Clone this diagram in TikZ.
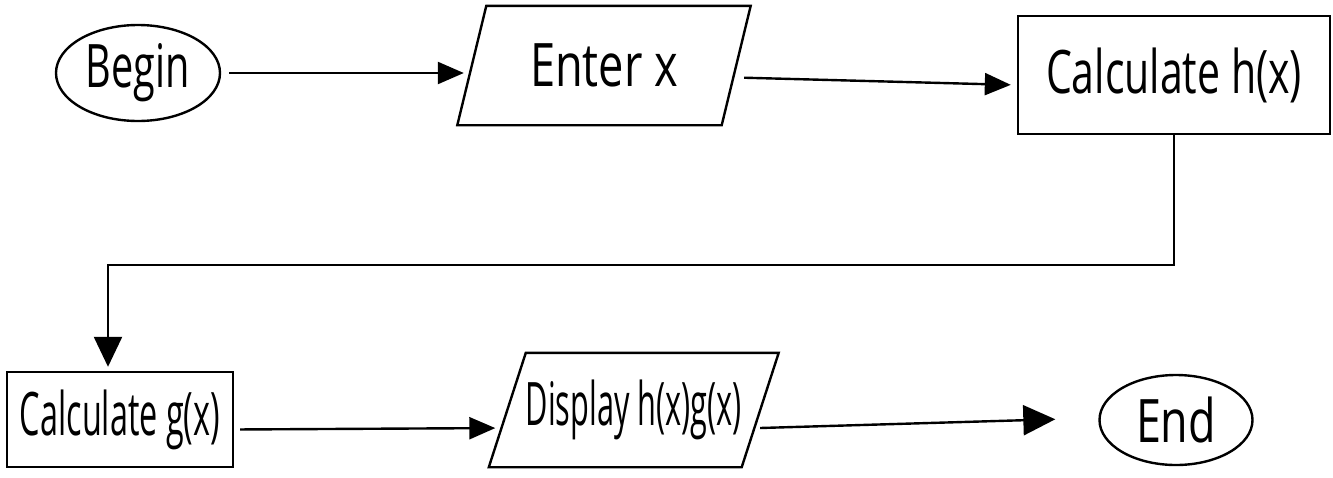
\documentclass[tikz,border=0pt]{standalone}
\usepackage{fontspec}
\setmainfont{Open Sans}
\usetikzlibrary{arrows.meta,shapes.geometric}
\newcommand\hwt[2]{\resizebox{#1pt}{\height}{#2}}
\begin{document}
\begin{tikzpicture}[x=0.5pt,y=-0.5pt, line width=1.2pt,
  box/.style={draw, rectangle, inner sep=0pt, font=\fontsize{30}{34}\selectfont},
  term/.style={draw, ellipse, inner sep=0pt, font=\fontsize{30}{34}\selectfont},
  io/.style={rectangle, inner sep=0pt, font=\fontsize{30}{34}\selectfont},
  arr/.style={-{Triangle[length=13pt,width=11pt]}},
  bigarr/.style={-{Triangle[length=16pt,width=15pt]}},
  downarr/.style={-{Triangle[length=15pt,width=14pt]}},
]
\fill[white] (0,0) rectangle (1333,477);
\useasboundingbox (0,0) rectangle (1333,477);

% nodes
\node[term, minimum width=82pt, minimum height=48pt] (begin) at (138,73) {\hwt{52}{Begin}};
\node[io, minimum width=131pt, minimum height=58.5pt] (enter) at (604,65.5) {\hwt{74}{Enter x}};
\draw ([xshift=7.25pt]enter.north west) -- ([xshift=7.25pt]enter.north east)
   -- ([xshift=-7.25pt]enter.south east) -- ([xshift=-7.25pt]enter.south west) -- cycle;
\node[box, minimum width=156pt, minimum height=59pt] (calch) at (1174,75) {\hwt{128}{Calculate h(x)}};
\node[box, minimum width=113pt, minimum height=47.5pt] (calcg) at (120,419.5) {\hwt{100}{Calculate g(x)}};
\node[io, minimum width=125.25pt, minimum height=56pt] (display) at (633.75,410) {\hwt{108}{Display h(x)g(x)}};
\draw ([xshift=9.25pt]display.north west) -- ([xshift=9.25pt]display.north east)
   -- ([xshift=-9.25pt]display.south east) -- ([xshift=-9.25pt]display.south west) -- cycle;
\node[term, minimum width=76.5pt, minimum height=45pt] (end) at (1176,420) {\hwt{40}{End}};

% connectors
\draw[arr, shorten <=4pt, shorten >=4pt] (begin.east) -- (begin.east -| enter.west);
\draw[arr, shorten <=4pt, shorten >=3pt] ([yshift=-6pt]enter.east) -- ([yshift=-5pt]calch.west);
\draw[downarr, shorten >=2pt] (calch.south) -- ++(0,130) -| ([xshift=-6pt]calcg.north);
\draw[arr, shorten <=3pt, shorten >=6pt] ([yshift=-5pt]calcg.east) -- ([yshift=-9pt]display.west);
\draw[bigarr, shorten >=21.5pt] ([yshift=-9pt]display.east) -- ([yshift=1pt]end.west);
\end{tikzpicture}
\end{document}
